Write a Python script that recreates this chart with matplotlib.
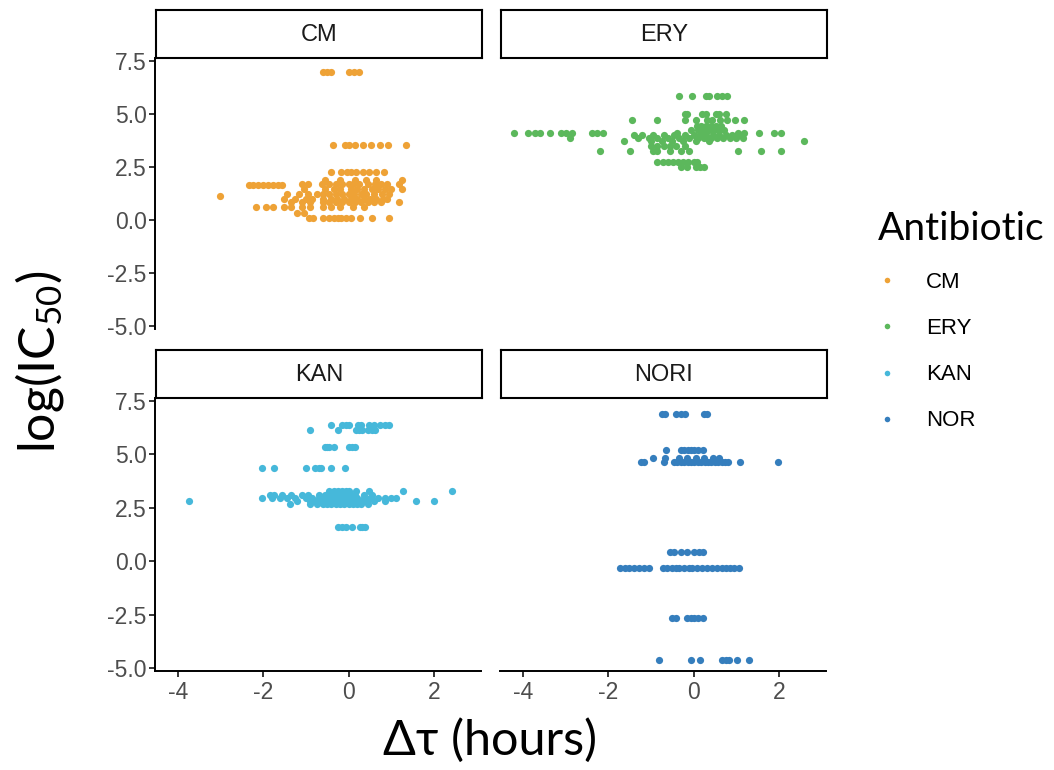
import numpy as np
import matplotlib
matplotlib.use("Agg")
import matplotlib.pyplot as plt
from matplotlib.lines import Line2D

# log(IC50) rows -> list of delta-tau values
CM_ROWS = [
    (6.95, [-0.60, -0.50, -0.40, 0.02, 0.12, 0.24]),
    (3.55, [-0.37, -0.09, 0.01, 0.14, 0.34, 0.53, 0.73, 0.92, 1.35]),
    (2.26, [-0.41, -0.17, -0.04, 0.06, 0.18, 0.34, 0.49, 0.65, 0.84]),
    (1.64, [-2.34, -2.24, -2.13, -2.01, -1.89, -1.77, -1.66, -1.55]),
    (1.72, [-1.10, -0.95, -0.62, -0.45, -0.30, -0.15, 0.00, 0.10, 0.25, 0.45, 0.62, 0.75, 0.90, 1.18]),
    (1.88, [-0.55, -0.20, 0.15, 0.40, 0.65, 1.25]),
    (1.45, [-1.05, -0.55, -0.35, -0.20, 0.05, 0.20, 0.35, 0.55, 0.70, 0.85, 1.00, 1.25]),
    (1.22, [-1.45, -1.15, -0.95, -0.75, -0.60, -0.45, -0.30, -0.15, 0.00, 0.12, 0.28, 0.42, 0.60, 0.78, 0.95]),
    (1.14, [-3.00]),
    (1.00, [-1.50, -1.25, -1.00, -0.85, -0.60, -0.42, -0.28, -0.10, 0.05, 0.20, 0.35, 0.50, 0.65, 0.80, 0.90]),
    (0.85, [-1.35, -1.10, -0.90, -0.60, -0.45, -0.30, -0.15, 0.00, 0.15, 0.30, 0.45, 0.60, 0.75, 1.18]),
    (0.63, [-2.16, -1.93, -1.76, -1.50, -1.35, -1.10, -0.90, -0.60, -0.40, -0.20, 0.10, 0.35]),
    (0.31, [-1.20, -1.05]),
    (0.08, [-0.93, -0.84, -0.60, -0.45, -0.35, -0.25, -0.17, -0.05, 0.06, 0.27, 0.55, 0.95]),
]

ERY_ROWS = [
    (5.83, [-0.34, -0.03, 0.28, 0.36, 0.55, 0.67, 0.79]),
    (5.00, [-0.19, -0.15, 0.20, 0.28, 0.52, 0.59, 0.75]),
    (4.69, [-1.44, -0.85, -0.19, 0.05, 0.32, 0.44, 0.63, 0.79, 0.98, 1.18]),
    (4.42, [0.08, 0.18, 0.30, 0.40, 0.52, 0.65]),
    (4.25, [-0.05, 0.10, 0.22, 0.35, 0.48, 0.60, 0.72]),
    (4.11, [-4.20, -3.88, -3.70, -3.59, -3.37, -3.10, -2.98, -2.84, -2.38, -2.26, -2.12,
            -0.38, 1.03, 1.18, 1.53, 1.88, 2.05]),
    (3.98, [-1.40, -1.20, -0.95, -0.70, -0.45, -0.20, 0.00, 0.15, 0.30, 0.45, 0.60, 0.75, 0.90, 1.05]),
    (3.86, [-2.90, -1.30, -1.05, -0.85, -0.60, -0.35, -0.10, 0.10, 0.25, 0.40, 0.55, 0.70, 0.85, 1.00, 1.15]),
    (3.70, [-1.63, -1.00, -0.75, -0.50, -0.25, 0.05, 0.35, 2.59]),
    (3.50, [-1.00, -0.85, -0.70, -0.55, -0.40, -0.20]),
    (3.25, [-2.18, -1.48, -0.95, -0.85, -0.55, -0.30, -0.10, 1.05, 1.59, 2.04]),
    (2.73, [-0.85, -0.72, -0.60, -0.48, -0.36, -0.24, -0.12, 0.00, 0.07]),
    (2.50, [-0.30, -0.15, 0.05, 0.15, 0.24]),
]

KAN_ROWS = [
    (6.37, [-0.42, -0.15, -0.05, 0.02, 0.22, 0.30, 0.49, 0.60, 0.73, 0.85, 0.95]),
    (6.12, [-0.90, -0.25, 0.18, 0.25, 0.32, 0.45, 0.55, 0.62]),
    (5.31, [-0.56, -0.50, -0.45, -0.33, 0.02, 0.08, 0.14]),
    (4.33, [-2.02, -1.75, -0.99, -0.78, -0.70, -0.64, -0.42, -0.08]),
    (3.30, [-0.45, -0.35, -0.25, -0.15, -0.05, 0.02, 0.18, 0.49, 1.27, 2.41]),
    (3.10, [-1.85, -1.75, -1.55, -1.35, -1.10, -0.95, -0.70, -0.55, -0.45, -0.35, -0.25,
            -0.15, -0.05, 0.05, 0.15, 0.35, 0.55]),
    (2.95, [-2.02, -1.80, -1.60, -1.45, -1.25, -1.00, -0.85, -0.70, -0.60, -0.50, -0.40,
            -0.30, -0.20, -0.10, 0.00, 0.10, 0.20, 0.35, 0.50, 0.70, 0.85, 1.00, 1.10]),
    (2.80, [-3.74, -1.20, -0.90, -0.80, -0.65, -0.55, -0.45, -0.35, -0.25, -0.15, -0.05,
            0.05, 0.15, 0.25, 0.40, 0.60, 0.85, 1.59, 2.00]),
    (2.65, [-1.38, -0.90, -0.75, -0.60, -0.50, -0.40, -0.30, -0.20, -0.10, 0.00, 0.10, 0.20, 0.30, 0.45]),
    (1.61, [-0.25, -0.15, -0.05, 0.08, 0.26, 0.32, 0.38]),
]

NOR_ROWS = [
    (6.87, [-0.73, -0.67, -0.42, -0.30, -0.19, 0.24, 0.32]),
    (5.19, [-0.64, -0.30, -0.22, -0.14, -0.06, 0.02, 0.10, 0.22]),
    (4.82, [-0.95, -0.66, -0.35, -0.15, 0.05, 0.25, 0.45, 0.60]),
    (4.61, [-1.23, -1.15, -0.68, -0.46, -0.38, -0.30, -0.22, -0.14, -0.06, 0.02, 0.10,
            0.18, 0.26, 0.34, 0.42, 0.50, 0.58, 0.66, 0.73, 0.80, 1.09, 1.98]),
    (0.42, [-0.56, -0.46, -0.30, -0.15, 0.00, 0.13, 0.22]),
    (-0.33, [-1.71, -1.60, -1.50, -1.39, -1.27, -1.16, -1.05, -0.71, -0.62, -0.50, -0.42,
             -0.34, -0.22, -0.11, -0.03, 0.09, 0.20, 0.32, 0.44, 0.55, 0.67, 0.75, 0.85,
             0.95, 1.06]),
    (-2.63, [-0.50, -0.42, -0.15, -0.07, 0.01, 0.10, 0.22]),
    (-4.62, [-0.81, -0.05, 0.15, 0.67, 0.75, 0.83, 1.01, 1.30]),
]

ANTIBIOTICS = ["CM", "ERY", "KAN", "NOR"]
STRIP_LABELS = ["CM", "ERY", "KAN", "NORI"]
COLORS = ["#EEA236", "#5CB85C", "#46B8DA", "#357EBD"]
Y_TICKS = [-5.0, -2.5, 0.0, 2.5, 5.0, 7.5]
X_TICKS = [-4, -2, 0, 2]

W, H = 1054, 770


def expand(rows):
    xs = np.concatenate([np.asarray(r[1], float) for r in rows])
    ys = np.concatenate([np.full(len(r[1]), r[0]) for r in rows])
    return xs, ys


def box(x0, y0, x1, y1):
    return [x0 / W, 1 - y1 / H, (x1 - x0) / W, (y1 - y0) / H]


plt.rcParams["mathtext.fontset"] = "custom"
plt.rcParams["mathtext.rm"] = "Lato"
plt.rcParams["mathtext.it"] = "Lato:italic"
plt.rcParams["axes.unicode_minus"] = False

fig = plt.figure(figsize=(W / 100, H / 100), dpi=100)

cols = [(155, 481), (500, 826)]
rows_px = [(58, 329, 10), (398, 671, 350)]
all_rows = [CM_ROWS, ERY_ROWS, KAN_ROWS, NOR_ROWS]

for i, name in enumerate(ANTIBIOTICS):
    r, c = divmod(i, 2)
    x0, x1 = cols[c]
    y0, y1, s0 = rows_px[r]
    ax = fig.add_axes(box(x0, y0, x1, y1))
    xs, ys = expand(all_rows[i])
    ax.scatter(xs, ys, s=27, color=COLORS[i], linewidths=0, zorder=3)
    ax.set_xlim(-4.53, 3.1)
    ax.set_ylim(-5.12, 7.62)
    ax.set_xticks(X_TICKS)
    ax.set_yticks(Y_TICKS)
    ax.set_yticklabels([f"{v:.1f}" for v in Y_TICKS])
    for sp in ax.spines.values():
        sp.set_linewidth(1.4)
        sp.set_color("black")
    ax.spines["top"].set_visible(False)
    ax.spines["right"].set_visible(False)
    ax.spines["left"].set_visible(c == 0)
    ax.spines["bottom"].set_visible(r == 1)
    ax.tick_params(axis="y", left=(c == 0), labelleft=(c == 0), length=4, width=1.1,
                   labelsize=16.5, labelcolor="#4D4D4D", pad=2)
    ax.tick_params(axis="x", bottom=(r == 1), labelbottom=(r == 1), length=4, width=1.1,
                   labelsize=16.5, labelcolor="#4D4D4D", pad=3)
    for lab in ax.get_xticklabels() + ax.get_yticklabels():
        lab.set_fontfamily("Liberation Sans")

    # facet strip
    st = fig.add_axes(box(x0 + 1, s0, x1 + 1, y0))
    st.set_xticks([])
    st.set_yticks([])
    for sp in st.spines.values():
        sp.set_linewidth(1.5)
        sp.set_color("black")
    st.text(0.5, 0.48, STRIP_LABELS[i], ha="center", va="center", fontsize=17,
            family="Liberation Sans", color="#1A1A1A", transform=st.transAxes)

fig.text(40 / W, 1 - 362 / H, "log(IC$_{50}$)", rotation=90, ha="center", va="center",
         fontsize=36, family="Lato")
fig.text(490 / W, 1 - 740 / H, "Δτ (hours)", ha="center", va="center",
         fontsize=35, family="Lato")

handles = [Line2D([], [], marker="o", linestyle="none", markersize=4,
                  markerfacecolor=col, markeredgewidth=0) for col in COLORS]
leg = fig.legend(handles, ANTIBIOTICS, loc="upper left", bbox_to_anchor=(878 / W, 1 - 211 / H),
                 frameon=False, title="Antibiotic", alignment="left",
                 prop={"family": "Liberation Sans", "size": 16},
                 title_fontproperties={"family": "Lato", "size": 28},
                 labelspacing=1.13, handletextpad=1.35, handlelength=0.8, borderaxespad=0,
                 borderpad=0)

fig.savefig("out.png", dpi=100)
